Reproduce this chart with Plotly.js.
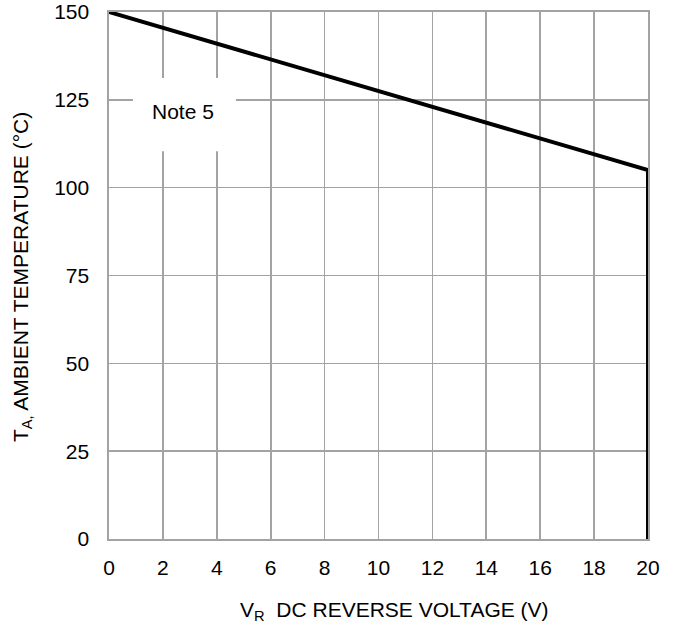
<!DOCTYPE html>
<html>
<head>
<meta charset="utf-8">
<script src="https://cdn.plot.ly/plotly-3.0.1.min.js"></script>
<style>html,body{margin:0;padding:0;background:#fff;}#chart{width:678px;height:628px;}</style>
</head>
<body>
<div id="chart"></div>
<script>
const voltage = [0, 20, 20];
const temperature = [150, 105, 0];
const xTicks = [0, 2, 4, 6, 8, 10, 12, 14, 16, 18, 20];
const yTicks = [0, 25, 50, 75, 100, 125, 150];
const noteText = "Note 5";
const xTitle = "V<sub>R</sub>  DC REVERSE VOLTAGE (V)";
const yTitle = "T<sub>A,</sub> AMBIENT TEMPERATURE (°C)";

const gridColor = "#a3a3a3";
const fam = "Liberation Sans, Arial, sans-serif";
const font = {family: fam, size: 21, color: "#000"};

const trace = {
  x: voltage, y: temperature, mode: "lines", type: "scatter",
  line: {color: "#000", width: 4}, cliponaxis: false, hoverinfo: "skip"
};

const layout = {
  width: 678, height: 628,
  margin: {l: 109, r: 30, t: 12, b: 89},
  paper_bgcolor: "#fff", plot_bgcolor: "#fff",
  showlegend: false, font: font,
  xaxis: {
    range: [0, 20], tickvals: xTicks, ticktext: xTicks.map(String),
    showgrid: true, gridcolor: gridColor, gridwidth: 1.6, zeroline: false,
    showline: true, linecolor: gridColor, linewidth: 1.6, mirror: true,
    ticks: "outside", ticklen: 9, tickcolor: "rgba(0,0,0,0)",
    tickfont: font
  },
  yaxis: {
    range: [0, 150], tickvals: yTicks, ticktext: yTicks.map(String),
    showgrid: true, gridcolor: gridColor, gridwidth: 1.6, zeroline: false,
    showline: true, linecolor: gridColor, linewidth: 1.6, mirror: true,
    ticks: "outside", ticklen: 14, tickcolor: "rgba(0,0,0,0)",
    tickfont: font
  },
  shapes: [{
    type: "rect", xref: "x", yref: "y", x0: 0.89, x1: 4.71, y0: 110.4, y1: 131.2,
    fillcolor: "#fff", line: {width: 0}, layer: "between"
  }],
  annotations: [
    {x: 2.76, y: 121.8, xref: "x", yref: "y", text: noteText, showarrow: false, font: font},
    {x: 0.529, y: -0.1366, xref: "paper", yref: "paper", xanchor: "center", yanchor: "middle",
     text: xTitle, showarrow: false, font: font},
    {x: -0.1614, y: 0.497, xref: "paper", yref: "paper", xanchor: "center", yanchor: "middle",
     text: yTitle, textangle: -90, showarrow: false, font: font}
  ]
};

Plotly.newPlot("chart", [trace], layout, {staticPlot: true, displayModeBar: false});
</script>
</body>
</html>
